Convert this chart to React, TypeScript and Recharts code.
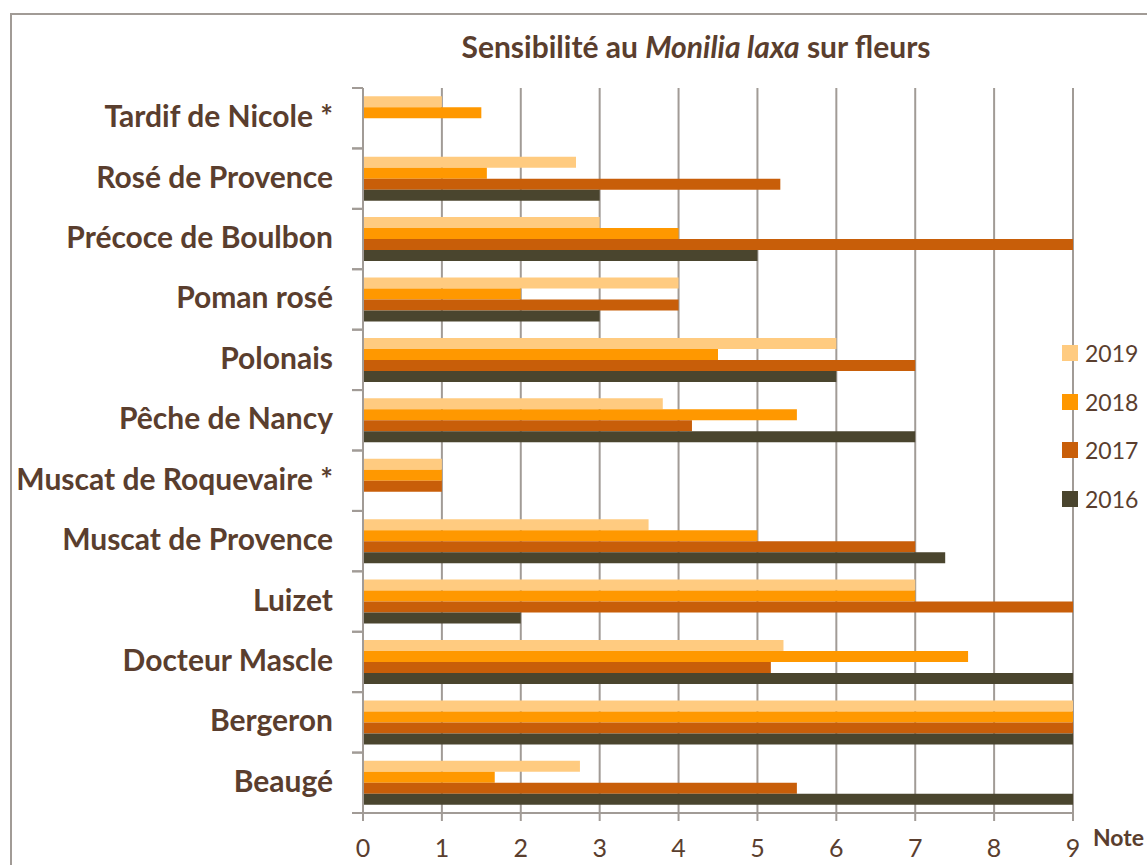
import { BarChart, Bar, XAxis, YAxis, CartesianGrid } from "recharts";

// varieties, top to bottom as in the chart
const categories = [
  "Tardif de Nicole *",
  "Rosé de Provence",
  "Précoce de Boulbon",
  "Poman rosé",
  "Polonais",
  "Pêche de Nancy",
  "Muscat de Roquevaire *",
  "Muscat de Provence",
  "Luizet",
  "Docteur Mascle",
  "Bergeron",
  "Beaugé",
];

const v2019 = [1, 2.7, 3, 4, 6, 3.8, 1, 3.62, 7, 5.33, 9, 2.75];
const v2018 = [1.5, 1.57, 4, 2, 4.5, 5.5, 1, 5, 7, 7.67, 9, 1.67];
const v2017 = [null, 5.29, 9, 4, 7, 4.17, 1, 7, 9, 5.17, 9, 5.5];
const v2016 = [null, 3, 5, 3, 6, 7, null, 7.38, 2, 9, 9, 9];

const xTicks = [0, 1, 2, 3, 4, 5, 6, 7, 8, 9];

const series = [
  { key: "2019", values: v2019, color: "#FFCB80" },
  { key: "2018", values: v2018, color: "#FF9800" },
  { key: "2017", values: v2017, color: "#C85E09" },
  { key: "2016", values: v2016, color: "#4A452E" },
];

const data = categories.map((name, i) => {
  const row: Record<string, string | number | null> = { name };
  series.forEach((s) => {
    row[s.key] = s.values[i];
  });
  return row;
});

const TEXT = "#5a3e2e";
const AXIS = "#a19b96";
const FONT = "Lato, 'Noto Sans', sans-serif";

const CategoryTick = (props: any) => {
  const { x, y, payload } = props;
  const half = payload && payload.offset ? payload.offset : 30.2;
  return (
    <g>
      <line x1={x - 11} x2={x} y1={y - half} y2={y - half} stroke={AXIS} strokeWidth={2} />
      <line x1={x - 11} x2={x} y1={y + half} y2={y + half} stroke={AXIS} strokeWidth={2} />
      <text
        x={x - 30}
        y={y}
        dy="0.3em"
        textAnchor="end"
        fill={TEXT}
        fontFamily={FONT}
        fontWeight={700}
        fontSize={30}
      >
        {payload.value}
      </text>
    </g>
  );
};

export default function App() {
  return (
    <div style={{ position: "relative", width: 1147, height: 865, background: "#fff", overflow: "hidden", fontFamily: FONT }}>
      <style>{"body{margin:0}"}</style>
      <div
        style={{
          position: "absolute",
          left: 10,
          top: 13,
          width: 1200,
          height: 900,
          border: `2px solid ${AXIS}`,
          boxSizing: "border-box",
        }}
      />
      <div
        style={{
          position: "absolute",
          left: 346,
          top: 28,
          width: 700,
          textAlign: "center",
          color: TEXT,
          fontWeight: 700,
          fontSize: 30,
        }}
      >
        Sensibilité au <i>Monilia laxa</i> sur fleurs
      </div>
      <BarChart
        width={1147}
        height={865}
        data={data}
        layout="vertical"
        margin={{ top: 88, right: 74, bottom: 22, left: 13 }}
        barCategoryGap="13.6%"
        barGap={0}
        style={{ position: "absolute", left: 0, top: 0 }}
      >
        <CartesianGrid horizontal={false} stroke={AXIS} strokeWidth={2} />
        <XAxis
          type="number"
          domain={[0, 9]}
          ticks={xTicks}
          interval={0}
          allowDecimals={false}
          height={30}
          stroke={AXIS}
          strokeWidth={2}
          tickSize={8}
          tickMargin={18}
          tick={{ fill: TEXT, fontSize: 25, fontFamily: FONT }}
        />
        <YAxis
          type="category"
          dataKey="name"
          width={350}
          interval={0}
          stroke={AXIS}
          strokeWidth={2}
          tickLine={false}
          tickSize={0}
          tickMargin={0}
          tick={<CategoryTick />}
        />
        {series.map((s) => (
          <Bar key={s.key} dataKey={s.key} fill={s.color} isAnimationActive={false} />
        ))}
      </BarChart>
      <div style={{ position: "absolute", left: 1093, top: 823, color: TEXT, fontWeight: 700, fontSize: 23 }}>
        Note
      </div>
      {series.map((s, i) => (
        <div
          key={s.key}
          style={{
            position: "absolute",
            left: 1062,
            top: 353 + i * 48.7 - 14,
            height: 28,
            display: "flex",
            alignItems: "center",
            color: TEXT,
            fontSize: 23,
          }}
        >
          <span style={{ display: "inline-block", width: 16, height: 16, background: s.color, marginRight: 7 }} />
          {s.key}
        </div>
      ))}
    </div>
  );
}
